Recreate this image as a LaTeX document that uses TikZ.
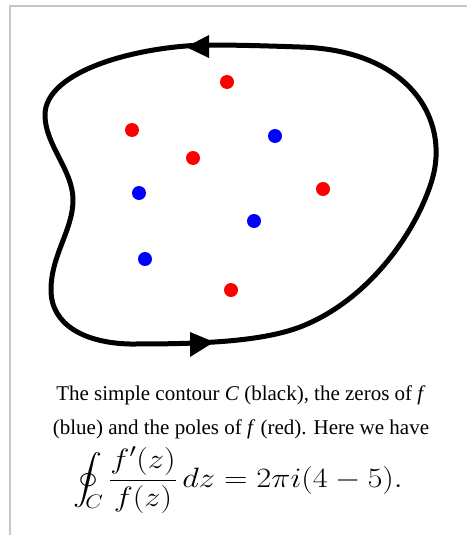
\RequirePackage{fix-cm}
\documentclass[tikz,border=0pt]{standalone}
\usepackage{amsmath}
\usepackage{graphicx}
\usepackage[no-math]{fontspec}
\setmainfont{Liberation Serif}
\begin{document}
\begin{tikzpicture}[x=1pt,y=-1pt,
  frameline/.style={draw=black!22,line width=1.2pt},
  contour/.style={draw=black,line width=5pt,line join=round},
  arrowtri/.style={fill=black,draw=none},
  zero/.style={circle,fill=blue,inner sep=0pt,minimum size=14pt},
  pole/.style={circle,fill=red,inner sep=0pt,minimum size=14pt},
  captext/.style={inner sep=0pt,anchor=base,font=\fontsize{21}{25}\selectfont}]
\useasboundingbox (0,0) rectangle (467,535);
\fill[white] (0,0) rectangle (467,535);
% frame
\coordinate (fa) at (10,535);
\coordinate (fb) at (10,6);
\coordinate (fc) at (467,6);
\draw[frameline] (fa) -- (fb) -- (fc);
% contour
\coordinate (A) at (207,45);
\coordinate (B) at (45,115);
\coordinate (C) at (73,200);
\coordinate (D) at (51,290);
\coordinate (E) at (130,344);
\coordinate (F) at (300,327);
\coordinate (H) at (432,180);
\coordinate (J) at (300,47);
\draw[contour] (A) .. controls (140,46) and (45,70) .. (B)
  .. controls (45,145) and (73,170) .. (C)
  .. controls (73,230) and (51,255) .. (D)
  .. controls (51,325) and (85,343) .. (E)
  .. controls (190,344) and (258,343) .. (F)
  .. controls (370,300) and (417,230) .. (H)
  .. controls (450,120) and (410,50) .. (J)
  .. controls (270,46) and (240,45) .. (A) -- cycle;
% arrowheads
\coordinate (ta) at (186,47);
\coordinate (tb) at (209,35);
\coordinate (tc) at (209,58);
\fill[arrowtri] (ta) -- (tb) -- (tc) -- cycle;
\coordinate (ba) at (214,342);
\coordinate (bb) at (190,332);
\coordinate (bc) at (190,357);
\fill[arrowtri] (ba) -- (bb) -- (bc) -- cycle;
% poles
\node[pole] (p1) at (227,82) {};
\node[pole] (p2) at (132,130) {};
\node[pole] (p3) at (193,158) {};
\node[pole] (p4) at (323,189) {};
\node[pole] (p5) at (231,290) {};
% zeros
\node[zero] (z1) at (275,136) {};
\node[zero] (z2) at (139,193) {};
\node[zero] (z3) at (254,221) {};
\node[zero] (z4) at (145,259) {};
% caption
\node[captext] (l1) at (241,400) {The simple contour \textit{C} (black), the zeros of \textit{f}};
\node[captext] (l2) at (241,434) {(blue) and the poles of \textit{f} (red). Here we have};
\node[inner sep=0pt,anchor=base,font=\fontsize{28}{32}\selectfont] (eq) at (238,487)
 {\scalebox{1.16}[1]{$\displaystyle\oint_{\mkern-3mu C} \frac{f'(z)}{f(z)}\,dz = 2\pi i(4-5).$}};
\end{tikzpicture}
\end{document}
